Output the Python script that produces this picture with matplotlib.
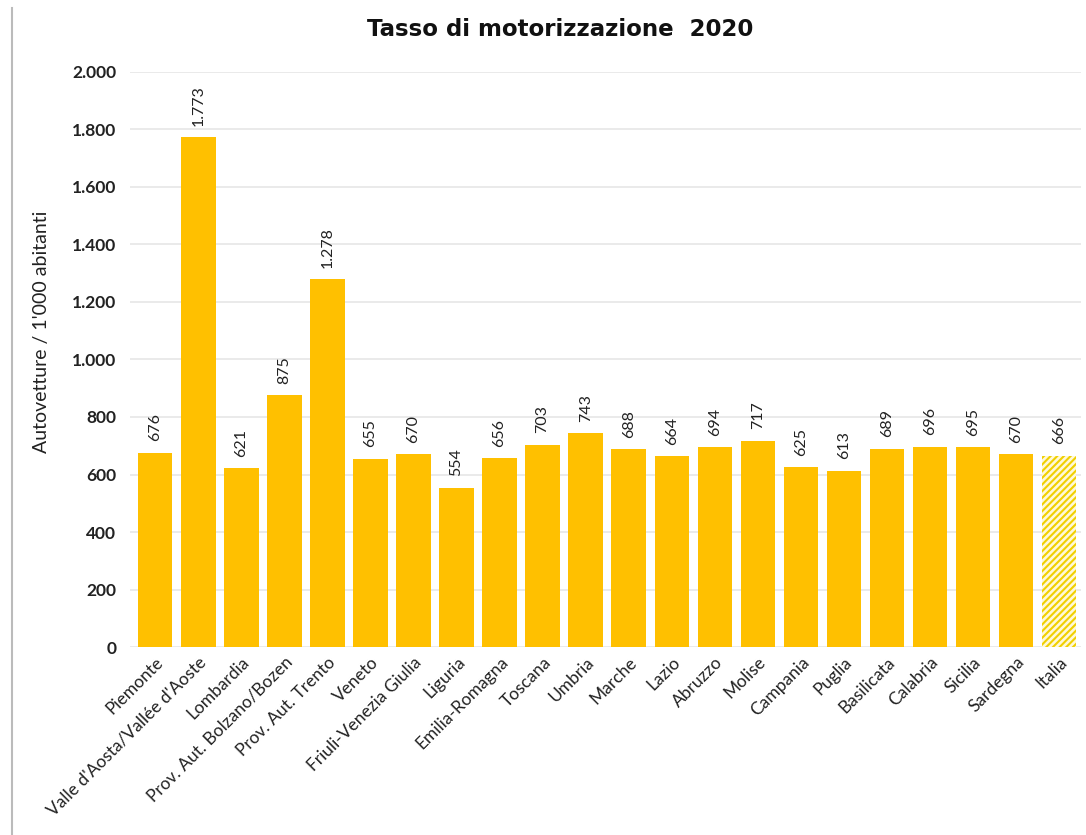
import matplotlib.pyplot as plt
import matplotlib.ticker as mticker
from matplotlib.lines import Line2D
import numpy as np

plt.rcParams["font.family"] = ["Lato", "DejaVu Sans"]

regioni = [
    "Piemonte", "Valle d'Aosta/Vallée d'Aoste", "Lombardia",
    "Prov. Aut. Bolzano/Bozen", "Prov. Aut. Trento", "Veneto",
    "Friuli-Venezia Giulia", "Liguria", "Emilia-Romagna", "Toscana",
    "Umbria", "Marche", "Lazio", "Abruzzo", "Molise", "Campania",
    "Puglia", "Basilicata", "Calabria", "Sicilia", "Sardegna", "Italia",
]
tasso = [676, 1773, 621, 875, 1278, 655, 670, 554, 656, 703, 743, 688,
         664, 694, 717, 625, 613, 689, 696, 695, 670, 666]

def fmt_it(v, pos=None):
    return f"{int(v):,}".replace(",", ".")

fig = plt.figure(figsize=(10.86, 8.35), dpi=100)
ax = fig.add_axes([0.12, 0.225, 0.875, 0.689])

x = np.arange(len(regioni))
giallo = "#FFC000"
ax.bar(x[:-1], tasso[:-1], width=0.8, color=giallo, zorder=3)
# media nazionale con tratteggio
plt.rcParams["hatch.linewidth"] = 1.5
ax.bar(x[-1], tasso[-1], width=0.8, facecolor="#FFF8D8",
       edgecolor="#F0D000", hatch="/////", linewidth=0, zorder=3)

for xi, v in zip(x, tasso):
    ax.text(xi, v + 40, fmt_it(v), rotation=90, ha="center", va="bottom",
            fontsize=11.5, color="#222222", clip_on=False)

ax.set_ylim(0, 2000)
ax.set_xlim(-0.58, 21.5)
ax.set_yticks(np.arange(0, 2001, 200))
ax.yaxis.set_major_formatter(mticker.FuncFormatter(fmt_it))
ax.grid(True, axis="y", color="#E6E6E6", linewidth=1.2, zorder=0)
for s in ax.spines.values():
    s.set_visible(False)
ax.tick_params(axis="both", length=0, colors="#222222")
ax.tick_params(axis="y", pad=10, labelsize=12.5)
for lbl in ax.get_yticklabels():
    lbl.set_fontweight("bold")
ax.set_xticks(x)
ax.set_xticklabels(regioni, rotation=45, ha="right", rotation_mode="anchor",
                   fontsize=12.5)
ax.tick_params(axis="x", pad=5)

ax.set_ylabel("Autovetture / 1'000 abitanti", fontsize=14, color="#222222")
ax.yaxis.set_label_coords(-0.085, 0.548)
fig.text(0.516, 0.965, "Tasso di motorizzazione  2020", ha="center", va="center",
         fontsize=16.5, fontweight="bold", color="#111111",
         family="DejaVu Sans")

fig.add_artist(Line2D([0.011, 0.011], [0.0, 0.99], color="#BBBBBB", linewidth=1.5))

plt.savefig("out.png", dpi=100)
